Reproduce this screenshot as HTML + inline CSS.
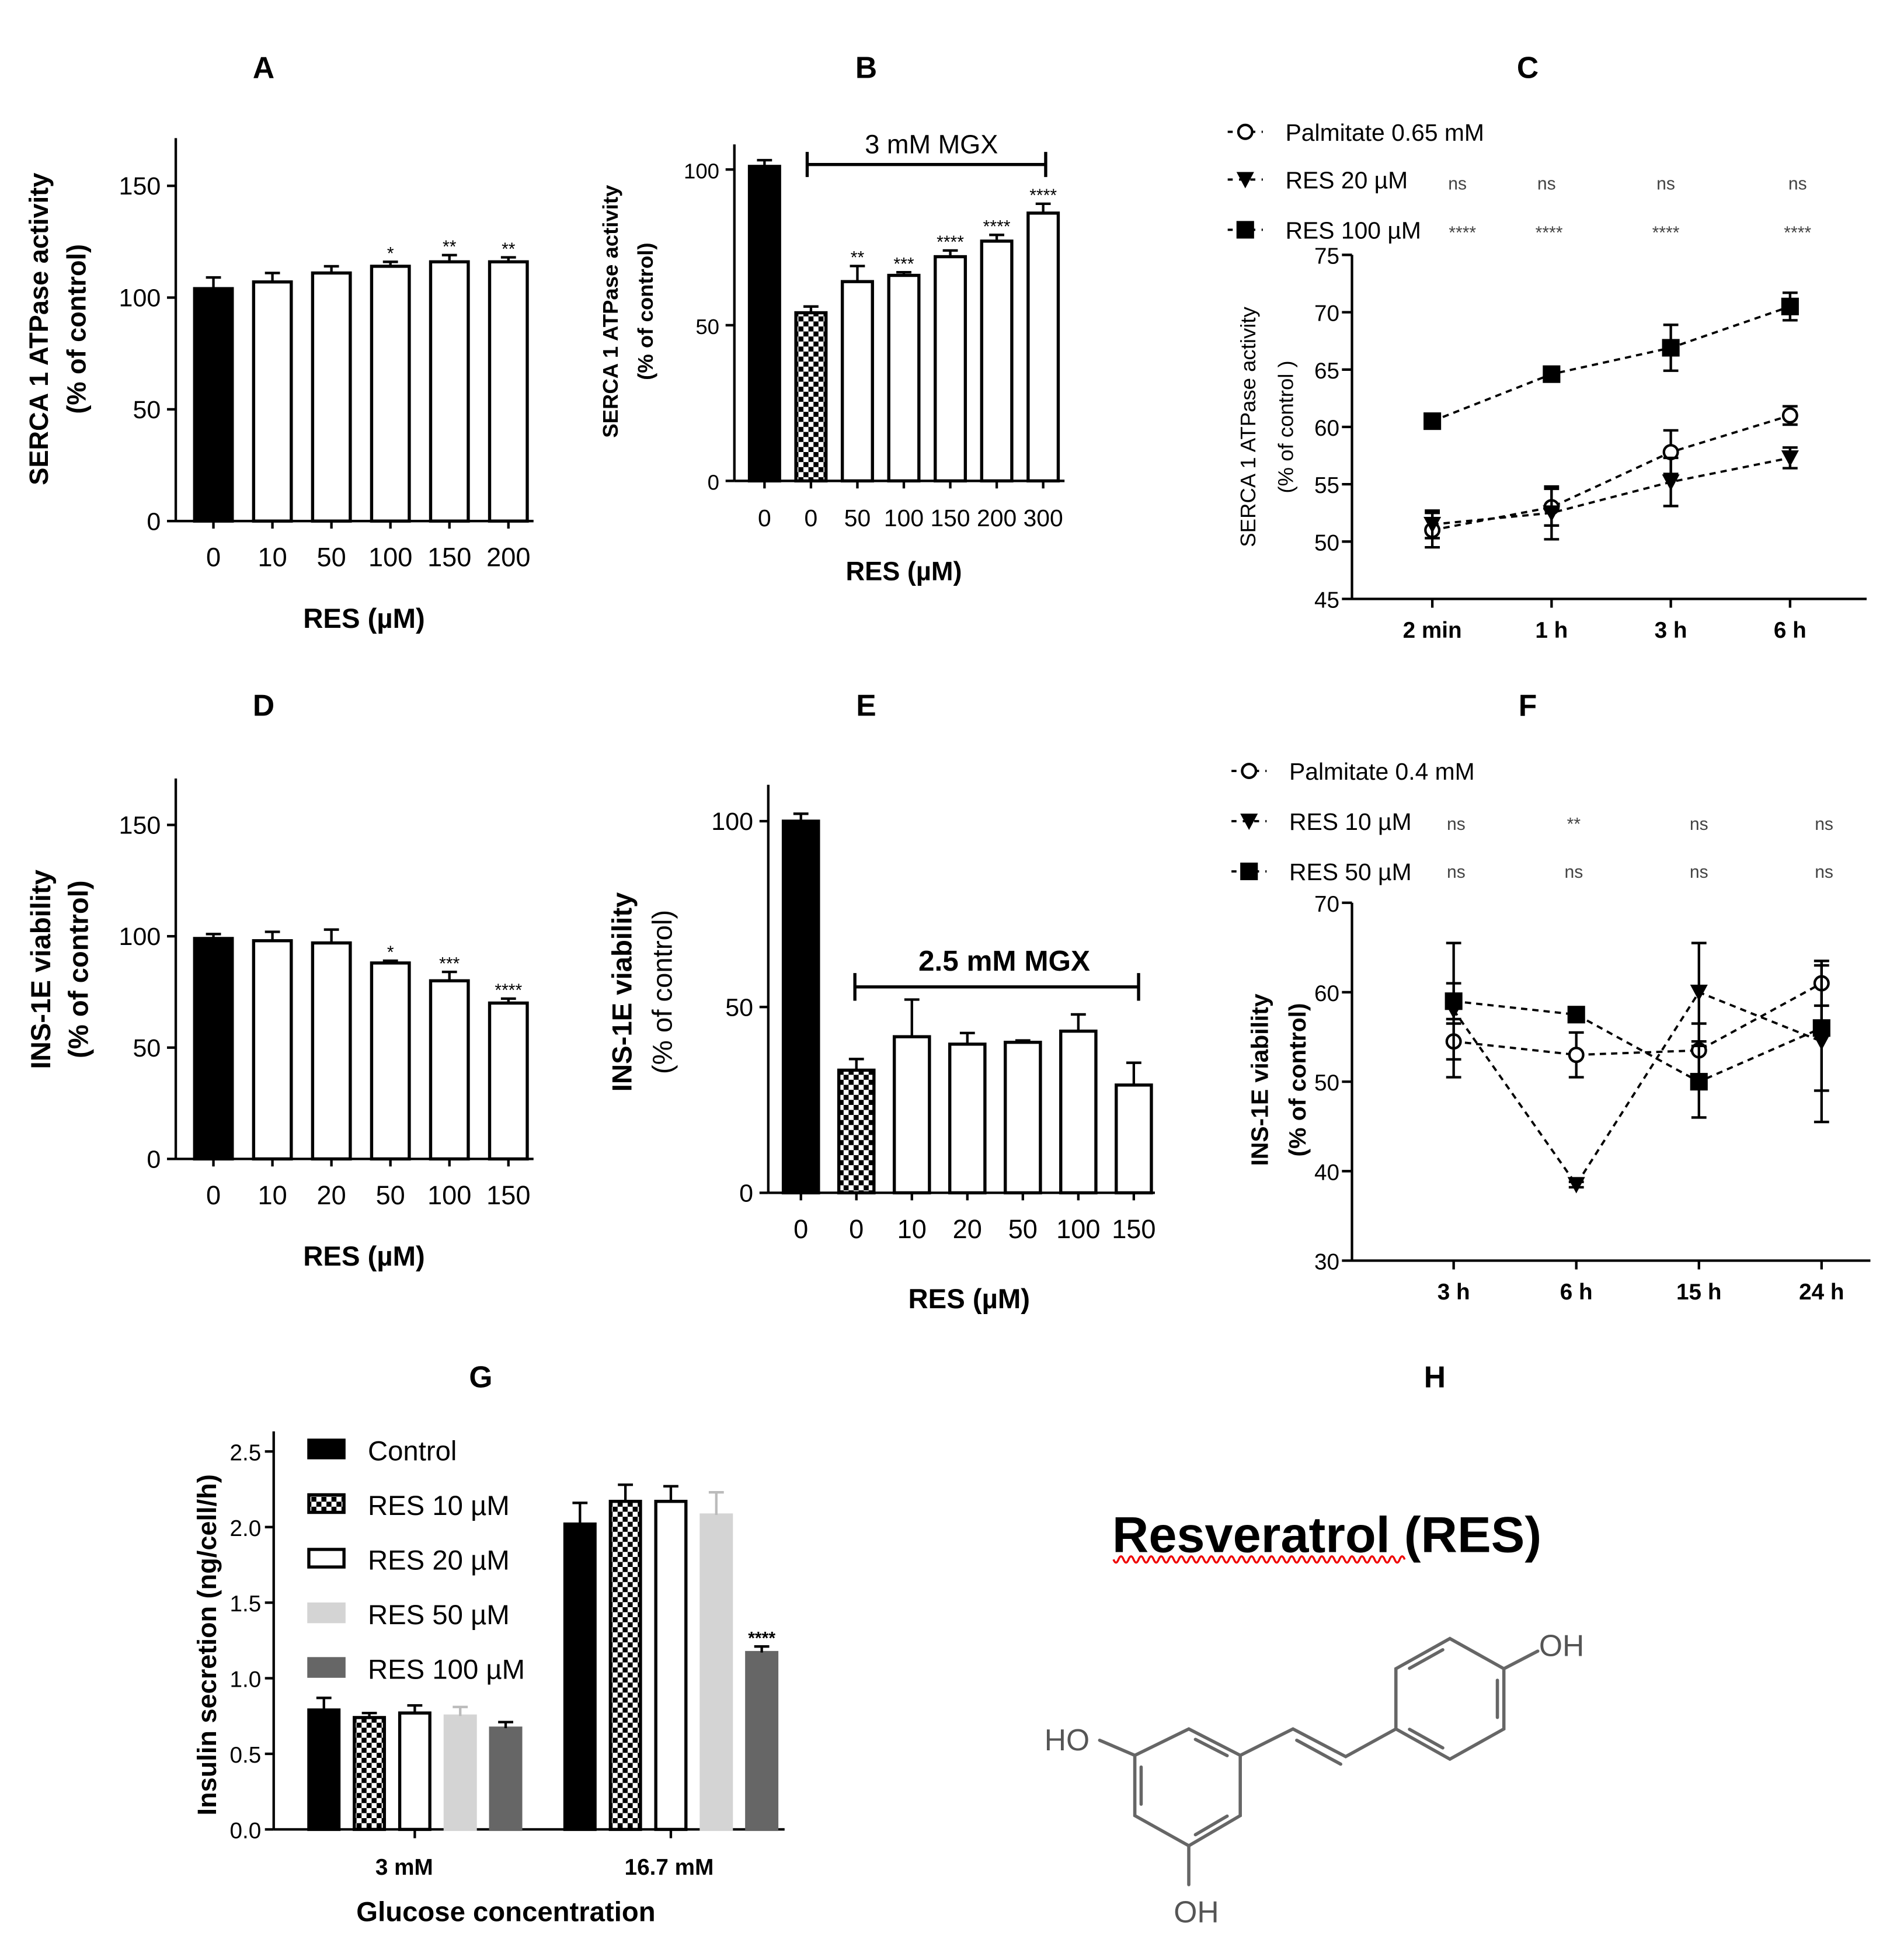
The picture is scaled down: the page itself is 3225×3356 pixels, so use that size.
<!DOCTYPE html>
<html><head><meta charset="utf-8">
<style>
html,body{margin:0;padding:0;background:#fff;}
svg{display:block;font-family:"Liberation Sans",Arial,sans-serif;}
</style></head>
<body>
<svg id="fig" xmlns="http://www.w3.org/2000/svg" width="3225" height="3356" viewBox="0 0 1500 1561">
<defs>
<pattern id="checker" width="8" height="8" patternUnits="userSpaceOnUse">
<rect width="8" height="8" fill="#fff"/><rect width="4" height="4" fill="#000"/><rect x="4" y="4" width="4" height="4" fill="#000"/>
</pattern>
</defs>
<g id="root"></g>
</svg>
<script>
// ---------- data ----------
const catsA = ['0','10','50','100','150','200'];
const valsA = [104,107,111,114,116,116];
const errA  = [5,4,3,2,3,2];
const starsA = ['','','','*','**','**'];
const ticksA = [0,50,100,150];

const catsB = ['0','0','50','100','150','200','300'];
const valsB = [101,54,64,66,72,77,86];
const errB  = [2,2,5,1,2,2,3];
const starsB = ['','','**','***','****','****','****'];
const ticksB = [0,50,100];

const catsC = ['2 min','1 h','3 h','6 h'];
const palmC = [51,53,57.8,61];
const palmCerr = [1.5,1.6,1.9,0.8];
const res20C = [51.5,52.5,55.2,57.3];
const res20Cerr = [1.2,2.3,2.1,0.9];
const res100C = [60.5,64.6,66.9,70.5];
const res100Cerr = [0.3,0.3,2,1.2];
const ticksC = [45,50,55,60,65,70,75];
const sigC20 = ['ns','ns','ns','ns'];
const sigC100 = ['****','****','****','****'];

const catsD = ['0','10','20','50','100','150'];
const valsD = [99,98,97,88,80,70];
const errD  = [2,4,6,1,4,2];
const starsD = ['','','','*','***','****'];
const ticksD = [0,50,100,150];

const catsE = ['0','0','10','20','50','100','150'];
const valsE = [100,33,42,40,40.5,43.5,29];
const errE  = [2,3,10,3,0.5,4.5,6];
const ticksE = [0,50,100];

const catsF = ['3 h','6 h','15 h','24 h'];
const palmF = [54.5,53,53.5,61];
const palmFerr = [2,2.5,3,2.5];
const res10F = [58,38.5,60,54.5];
const res10Ferr = [7.5,0.3,5.5,9];
const res50F = [59,57.5,50,56];
const res50Ferr = [2,0.5,4,7];
const ticksF = [30,40,50,60,70];
const sigF10 = ['ns','**','ns','ns'];
const sigF50 = ['ns','ns','ns','ns'];

const groupsG = ['3 mM','16.7 mM'];
const seriesG = ['Control','RES 10 \u00b5M','RES 20 \u00b5M','RES 50 \u00b5M','RES 100 \u00b5M'];
const valsG3  = [0.79,0.74,0.77,0.75,0.67];
const errG3   = [0.08,0.03,0.05,0.06,0.04];
const valsG16 = [2.02,2.17,2.17,2.08,1.17];
const errG16  = [0.14,0.11,0.1,0.15,0.04];
const starsG16 = ['','','','','****'];
const ticksG = [0,0.5,1.0,1.5,2.0,2.5];

// ---------- helpers ----------
const NS='http://www.w3.org/2000/svg';
const root=document.getElementById('root');
function mk(tag,attrs,parent,text){
  const e=document.createElementNS(NS,tag);
  for(const k in attrs) e.setAttribute(k,attrs[k]);
  if(text!==undefined) e.textContent=text;
  (parent||root).appendChild(e);
  return e;
}
function txt(x,y,s,size,opts,parent){
  opts=opts||{};
  const t=mk('text',{x:x,y:y,'font-size':size,'text-anchor':opts.anchor||'middle','font-weight':opts.weight||'bold',fill:opts.fill||'#000'},parent,s);
  if(opts.rot) t.setAttribute('transform','rotate(-90 '+x+' '+y+')');
  return t;
}
function lin(d0,d1,p0,p1){return v=>p0+(v-d0)*(p1-p0)/(d1-d0);}

function barPanel(name,cfg){
  const g=mk('g',{});
  
  
  const y=lin(0,cfg.ymax,cfg.y0,cfg.ytop);
  mk('line',{x1:cfg.ax,y1:cfg.axTop,x2:cfg.ax,y2:cfg.y0,stroke:'#000','stroke-width':2},g);
  mk('line',{x1:cfg.ax,y1:cfg.y0,x2:cfg.axEnd,y2:cfg.y0,stroke:'#000','stroke-width':2},g);
  cfg.ticks.forEach(t=>{
    mk('line',{x1:cfg.ax-7,y1:y(t),x2:cfg.ax,y2:y(t),stroke:'#000','stroke-width':2},g);
    const lb=txt(cfg.ax-12,y(t)+7,String(t),cfg.tfs,{anchor:'end',weight:'normal'},g);
    
    
  });
  cfg.cats.forEach((c,i)=>{
    const cx=cfg.x0+i*cfg.step;
    const v=cfg.vals[i];
    let fill='#fff';
    if(i===0) fill='#000';
    if(cfg.checker && i===1) fill='url(#checker)';
    const b=mk('rect',{x:cx-cfg.bw/2,y:y(v),width:cfg.bw,height:cfg.y0-y(v),fill:fill,stroke:'#000','stroke-width':2.5},g);
    
    
    const ey=y(v+cfg.err[i]);
    mk('line',{x1:cx,y1:y(v),x2:cx,y2:ey,stroke:'#000','stroke-width':2},g);
    mk('line',{x1:cx-6,y1:ey,x2:cx+6,y2:ey,stroke:'#000','stroke-width':2},g);
    mk('line',{x1:cx,y1:cfg.y0,x2:cx,y2:cfg.y0+6,stroke:'#000','stroke-width':2},g);
    const xl=txt(cx,cfg.y0+36,c,cfg.xfs,{weight:'normal'},g);
    
    
    if(cfg.stars && cfg.stars[i]){
      const s=txt(cx,ey-2,cfg.stars[i],14,{weight:'normal'},g);
      
      
    }
  });
  return g;
}

// ---------- Panel titles ----------
[['A',210,62],['B',690,62],['C',1217,62],['D',210,570],['E',690,570],['F',1217,570],['G',383,1105],['H',1143,1105]].forEach(p=>{
  const t=txt(p[1],p[2],p[0],24);
  
  
});

// ---------- Panel A ----------
barPanel('panel-a',{ax:140,axTop:110,axEnd:425,y0:415,ytop:148,ymax:150,ticks:ticksA,cats:catsA,vals:valsA,err:errA,stars:starsA,x0:170,step:47,bw:30,tfs:20,xfs:21});
let t;
t=txt(38,262,'SERCA 1 ATPase activity',21,{rot:true});  
t=txt(68,262,'(% of control)',21,{rot:true});  
t=txt(290,500,'RES (\u00b5M)',22);  

// ---------- Panel B ----------
barPanel('panel-b',{ax:585,axTop:115,axEnd:848,y0:383,ytop:259,ymax:50,ticks:ticksB,cats:catsB,vals:valsB,err:errB,stars:starsB,x0:609,step:37,bw:24,checker:true,tfs:17,xfs:19});
mk('line',{x1:643,y1:131,x2:833,y2:131,stroke:'#000','stroke-width':2.5});
mk('line',{x1:643,y1:121,x2:643,y2:141,stroke:'#000','stroke-width':2.5});
mk('line',{x1:833,y1:121,x2:833,y2:141,stroke:'#000','stroke-width':2.5});
t=txt(742,122,'3 mM MGX',21,{weight:'normal'});  
t=txt(492,248,'SERCA 1 ATPase activity',17,{rot:true});  
t=txt(520,248,'(% of control)',17,{rot:true});  
t=txt(720,462,'RES (\u00b5M)',21);  

// ---------- Line panels ----------
function marker(type,x,y,g){
  let m;
  if(type==='circle') m=mk('circle',{cx:x,cy:y,r:5.5,fill:'#fff',stroke:'#000','stroke-width':2},g);
  else if(type==='tri') m=mk('path',{d:`M${x-7} ${y-6}L${x+7} ${y-6}L${x} ${y+7}Z`,fill:'#000'},g);
  else m=mk('rect',{x:x-7,y:y-7,width:14,height:14,fill:'#000'},g);
  return m;
}
function linePanel(name,cfg){
  const g=mk('g',{});
  
  
  const y=lin(cfg.ymin,cfg.ymax,cfg.y0,cfg.ytop);
  mk('line',{x1:cfg.ax,y1:cfg.ytop,x2:cfg.ax,y2:cfg.y0,stroke:'#000','stroke-width':2},g);
  mk('line',{x1:cfg.ax,y1:cfg.y0,x2:cfg.axEnd,y2:cfg.y0,stroke:'#000','stroke-width':2},g);
  cfg.ticks.forEach(v=>{
    mk('line',{x1:cfg.ax-8,y1:y(v),x2:cfg.ax,y2:y(v),stroke:'#000','stroke-width':2},g);
    const l=txt(cfg.ax-10,y(v)+7,String(v),18,{anchor:'end',weight:'normal'},g);
    
    
  });
  cfg.cats.forEach((c,i)=>{
    const cx=cfg.x0+i*cfg.step;
    mk('line',{x1:cx,y1:cfg.y0,x2:cx,y2:cfg.y0+7,stroke:'#000','stroke-width':2},g);
    const l=txt(cx,cfg.y0+31,c,18,{},g);
    
    
  });
  cfg.series.forEach((s,si)=>{
    const sg=mk('g',{},g);
    
    
    const pts=s.vals.map((v,i)=>[cfg.x0+i*cfg.step,y(v)]);
    mk('polyline',{points:pts.map(p=>p.join(',')).join(' '),fill:'none',stroke:'#000','stroke-width':1.8,'stroke-dasharray':'5,4'},sg);
    s.vals.forEach((v,i)=>{
      const cx=pts[i][0];
      const e1=y(v+s.err[i]), e2=y(v-s.err[i]);
      mk('line',{x1:cx,y1:e1,x2:cx,y2:e2,stroke:'#000','stroke-width':2},sg);
      mk('line',{x1:cx-6,y1:e1,x2:cx+6,y2:e1,stroke:'#000','stroke-width':2},sg);
      mk('line',{x1:cx-6,y1:e2,x2:cx+6,y2:e2,stroke:'#000','stroke-width':2},sg);
      const m=marker(s.type,cx,pts[i][1],sg);
      
      
    });
    const ly=cfg.legY[si];
    const lg=mk('g',{},g);
    
    
    mk('line',{x1:cfg.legX-14,y1:ly,x2:cfg.legX+14,y2:ly,stroke:'#000','stroke-width':1.8,'stroke-dasharray':'4,5'},lg);
    marker(s.type,cfg.legX,ly,lg);
    txt(cfg.legX+32,ly+7,s.label,19,{anchor:'start',weight:'normal'},lg);
  });
  cfg.sig.forEach(row=>{
    row.labels.forEach((l,i)=>{
      const tt=txt(cfg.x0+i*cfg.step+(row.dx?row.dx[i]:0),row.y,l,row.size||14,{weight:'normal',fill:'#444'},g);
      
      
    });
  });
}
linePanel('panel-c',{ax:1077,axEnd:1487,ytop:203,y0:477,ymin:45,ymax:75,ticks:ticksC,cats:catsC,x0:1141,step:95,
  series:[{key:'palmitate',label:'Palmitate 0.65 mM',type:'circle',vals:palmC,err:palmCerr},
          {key:'res20',label:'RES 20 \u00b5M',type:'tri',vals:res20C,err:res20Cerr},
          {key:'res100',label:'RES 100 \u00b5M',type:'sq',vals:res100C,err:res100Cerr}],
  legX:992,legY:[105,143,183],
  sig:[{labels:sigC20,y:151,dx:[20,-4,-4,6]},{labels:sigC100,y:190,dx:[24,-2,-4,6]}]});
t=txt(1000,340,'SERCA 1 ATPase activity',17,{rot:true,weight:'normal'});  
t=txt(1030,340,'(% of control )',17,{rot:true,weight:'normal'});  

// ---------- Panel D ----------
barPanel('panel-d',{ax:140,axTop:620,axEnd:425,y0:923,ytop:657,ymax:150,ticks:ticksD,cats:catsD,vals:valsD,err:errD,stars:starsD,x0:170,step:47,bw:30,tfs:20,xfs:21});
t=txt(40,772,'INS-1E viability',22,{rot:true});  
t=txt(70,772,'(% of control)',22,{rot:true});  
t=txt(290,1008,'RES (\u00b5M)',22);  

// ---------- Panel E ----------
barPanel('panel-e',{ax:612,axTop:625,axEnd:920,y0:950,ytop:802,ymax:50,ticks:ticksE,cats:catsE,vals:valsE,err:errE,x0:638,step:44.2,bw:28,checker:true,tfs:20,xfs:21});
mk('line',{x1:681,y1:786,x2:907,y2:786,stroke:'#000','stroke-width':2.5});
mk('line',{x1:681,y1:775,x2:681,y2:797,stroke:'#000','stroke-width':2.5});
mk('line',{x1:907,y1:775,x2:907,y2:797,stroke:'#000','stroke-width':2.5});
t=txt(800,773,'2.5 mM MGX',23);  
t=txt(503,790,'INS-1E viability',22,{rot:true});  
t=txt(535,790,'(% of control)',22,{rot:true,weight:'normal'});  
t=txt(772,1042,'RES (\u00b5M)',22);  

// ---------- Panel F ----------
linePanel('panel-f',{ax:1077,axEnd:1490,ytop:719,y0:1004,ymin:30,ymax:70,ticks:ticksF,cats:catsF,x0:1158,step:97.7,
  series:[{key:'palmitate',label:'Palmitate 0.4 mM',type:'circle',vals:palmF,err:palmFerr},
          {key:'res10',label:'RES 10 \u00b5M',type:'tri',vals:res10F,err:res10Ferr},
          {key:'res50',label:'RES 50 \u00b5M',type:'sq',vals:res50F,err:res50Ferr}],
  legX:995,legY:[614,654,694],
  sig:[{labels:sigF10,y:661,dx:[2,-2,0,2]},{labels:sigF50,y:699,dx:[2,-2,0,2]}]});
t=txt(1010,860,'INS-1E viability',19,{rot:true});  
t=txt(1040,860,'(% of control)',19,{rot:true});  

// ---------- Panel G ----------
(function(){
  const g=mk('g',{});
  
  
  const ax=218,y0=1457,ytop=1156;
  const y=lin(0,2.5,y0,ytop);
  const fills=['#000','url(#checker)','#fff','#d4d4d4','#666'];
  const strokes=['#000','#000','#000','#d4d4d4','#666'];
  mk('line',{x1:ax,y1:1140,x2:ax,y2:y0,stroke:'#000','stroke-width':2},g);
  mk('line',{x1:ax,y1:y0,x2:625,y2:y0,stroke:'#000','stroke-width':2},g);
  ticksG.forEach(v=>{
    mk('line',{x1:ax-7,y1:y(v),x2:ax,y2:y(v),stroke:'#000','stroke-width':2},g);
    const l=txt(ax-10,y(v)+7,v.toFixed(1),18,{anchor:'end',weight:'normal'},g);
    
    
  });
  const groupVals=[valsG3,valsG16], groupErr=[errG3,errG16];
  const gx0=[258,462];
  groupsG.forEach((gn,gi)=>{
    groupVals[gi].forEach((v,i)=>{
      const cx=gx0[gi]+i*36.2;
      const b=mk('rect',{x:cx-12,y:y(v),width:24,height:y0-y(v),fill:fills[i],stroke:strokes[i],'stroke-width':2.5},g);
      
      
      const ey=y(v+groupErr[gi][i]);
      mk('line',{x1:cx,y1:y(v),x2:cx,y2:ey,stroke:strokes[i]==='#d4d4d4'?'#bbb':'#000','stroke-width':2},g);
      mk('line',{x1:cx-6,y1:ey,x2:cx+6,y2:ey,stroke:strokes[i]==='#d4d4d4'?'#bbb':'#000','stroke-width':2},g);
      if(gi===1 && starsG16[i]){const s=txt(cx,ey-2,starsG16[i],14,{},g);}
    });
    const cx=gx0[gi]+2*36.2;
    mk('line',{x1:cx,y1:y0,x2:cx,y2:y0+7,stroke:'#000','stroke-width':2},g);
    const l=txt(gi===0?322:533,y0+36,gn,18,{},g);
    
    
  });
  seriesG.forEach((s,i)=>{
    const ly=1155+i*43.5;
    const lg=mk('g',{},g);
    
    
    mk('rect',{x:246,y:ly-8,width:28,height:14,fill:fills[i],stroke:strokes[i],'stroke-width':2.5},lg);
    txt(293,ly+8,s,22,{anchor:'start',weight:'normal'},lg);
  });
  let tt=txt(172,1310,'Insulin secretion (ng/cell/h)',21,{rot:true},g);  
  tt=txt(403,1530,'Glucose concentration',22,{},g);  
})();

// ---------- Panel H ----------
(function(){
  const g=mk('g',{});
  
  
  const tt=mk('text',{x:886,y:1236,'font-size':40,'font-weight':'bold',fill:'#000','font-family':'"Liberation Sans",sans-serif','textLength':342,'lengthAdjust':'spacingAndGlyphs'},g,'Resveratrol (RES)');
  
  
  let d='M887 1242';
  for(let x=887;x<1115;x+=8){d+=` Q${x+2} ${1247} ${x+4} ${1242} Q${x+6} ${1237} ${x+8} ${1242}`;}
  mk('path',{d:d,fill:'none',stroke:'#e00','stroke-width':1.6},g);
  const st={stroke:'#666','stroke-width':2.6,fill:'none','stroke-linecap':'round'};
  const L=[[947,1377],[988,1398],[988,1446],[947,1470],[904,1446],[904,1398]];
  const R=[[1112,1377],[1112,1329],[1155,1305],[1198,1329],[1198,1377],[1155,1401]];
  mk('polygon',Object.assign({points:L.map(p=>p.join(',')).join(' ')},st),g);
  mk('polygon',Object.assign({points:R.map(p=>p.join(',')).join(' ')},st),g);
  function inner(a,b,c){
    const s=0.15, k=0.12;
    const p1=[a[0]+(b[0]-a[0])*s,a[1]+(b[1]-a[1])*s], p2=[a[0]+(b[0]-a[0])*(1-s),a[1]+(b[1]-a[1])*(1-s)];
    const q1=[p1[0]+(c[0]-p1[0])*k,p1[1]+(c[1]-p1[1])*k], q2=[p2[0]+(c[0]-p2[0])*k,p2[1]+(c[1]-p2[1])*k];
    mk('line',Object.assign({x1:q1[0],y1:q1[1],x2:q2[0],y2:q2[1]},st),g);
  }
  const cL=[946,1423], cR=[1155,1353];
  inner(L[0],L[1],cL); inner(L[4],L[5],cL); inner(L[2],L[3],cL);
  inner(R[1],R[2],cR); inner(R[3],R[4],cR); inner(R[5],R[0],cR);
  mk('polyline',Object.assign({points:'988,1398 1030,1377 1072,1399 1112,1377'},st),g);
  mk('line',Object.assign({x1:1033,y1:1386,x2:1068,y2:1405},st),g);
  mk('line',Object.assign({x1:904,y1:1398,x2:876,y2:1386},st),g);
  mk('line',Object.assign({x1:947,y1:1470,x2:947,y2:1501},st),g);
  mk('line',Object.assign({x1:1198,y1:1329,x2:1225,y2:1315},st),g);
  const lab={'font-size':24,fill:'#555','font-family':'"Liberation Sans",sans-serif'};
  mk('text',Object.assign({x:832,y:1394},lab),g,'HO');
  mk('text',Object.assign({x:935,y:1531},lab),g,'OH');
  mk('text',Object.assign({x:1226,y:1319},lab),g,'OH');
})();
</script>
</body></html>
